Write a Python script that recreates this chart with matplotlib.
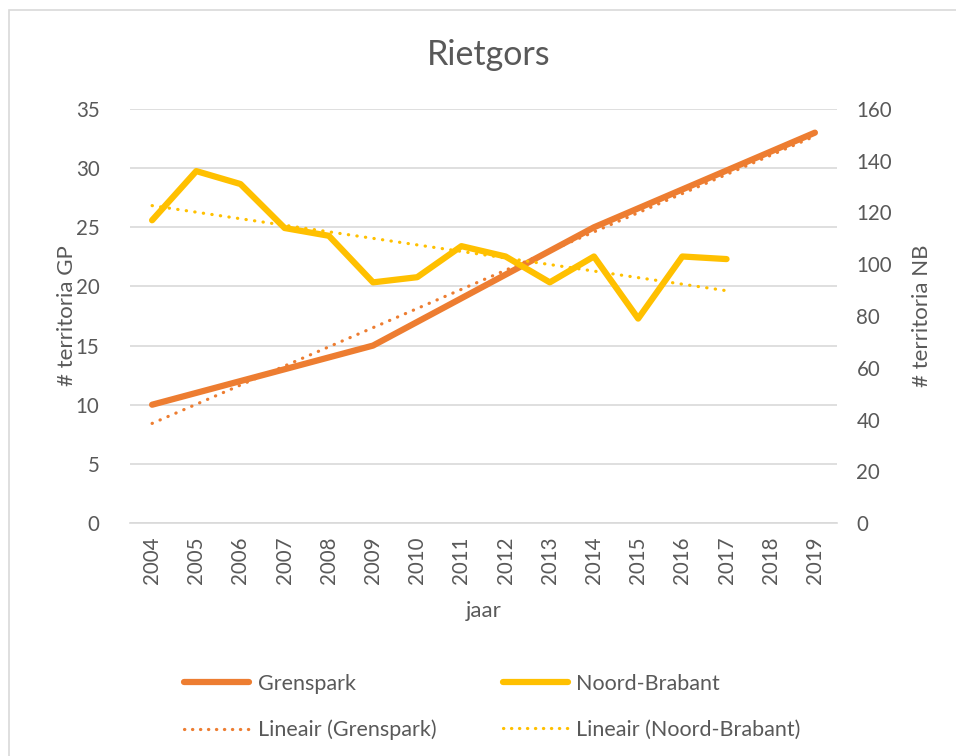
import numpy as np
import matplotlib
matplotlib.use("Agg")
import matplotlib.pyplot as plt
from matplotlib.lines import Line2D
from matplotlib.patches import Rectangle

years = [2004, 2005, 2006, 2007, 2008, 2009, 2010, 2011, 2012, 2013, 2014, 2015, 2016, 2017, 2018, 2019]
grenspark = [10, 11, 12, 13, 14, 15, 17, 19, 21, 23, 25, 26.6, 28.2, 29.8, 31.4, 33]
noord_brabant = [117, 136, 131, 114, 111, 93, 95, 107, 103, 93, 103, 79, 103, 102]

left_ticks = [0, 5, 10, 15, 20, 25, 30, 35]
right_ticks = [0, 20, 40, 60, 80, 100, 120, 140, 160]

title = "Rietgors"
xlabel = "jaar"
ylabel_left = "# territoria GP"
ylabel_right = "# territoria NB"

ORANGE = "#ED7D31"
GOLD = "#FFC000"
TXT = "#595959"
GRID = "#D9D9D9"

plt.rcParams['font.family'] = ['Lato', 'DejaVu Sans']

fig = plt.figure(figsize=(9.56, 7.56), dpi=100)
fig.patches.append(Rectangle((9/956, -0.05), 1.1, 1 - 10/756 + 0.05, transform=fig.transFigure,
                             fill=False, edgecolor="#D9D9D9", linewidth=1.2))

ax = fig.add_axes([130/956, 1 - 523/756, (837 - 130)/956, (523 - 109)/756])
ax2 = ax.twinx()

x = np.arange(len(years))
xg = x[:len(grenspark)]
xn = x[:len(noord_brabant)]

# trend lines (least squares, as Excel's linear trendline)
pg = np.polyfit(xg, grenspark, 1)
pn = np.polyfit(xn, noord_brabant, 1)

DOT = (0, (0.1, 2.6))
ax.plot(xg, grenspark, color=ORANGE, lw=4.5, solid_capstyle='round', solid_joinstyle='round', zorder=3)
ax.plot(xg, np.polyval(pg, xg), color=ORANGE, lw=2.3, linestyle=DOT, dash_capstyle='round', zorder=4)
ax2.plot(xn, noord_brabant, color=GOLD, lw=4.5, solid_capstyle='round', solid_joinstyle='round', zorder=3)
ax2.plot(xn, np.polyval(pn, xn), color=GOLD, lw=2.3, linestyle=DOT, dash_capstyle='round', zorder=4)

ax.set_xlim(-0.5, len(years) - 0.5)
ax.set_ylim(0, 35)
ax2.set_ylim(0, 160)
ax.set_yticks(left_ticks)
ax2.set_yticks(right_ticks)
ax.set_xticks(x)
ax.set_xticklabels([str(y) for y in years], rotation=90)

ax.grid(axis='y', color=GRID, lw=1.2)
ax.set_axisbelow(True)
for a in (ax, ax2):
    for s in a.spines.values():
        s.set_visible(False)
    a.tick_params(length=0, colors=TXT, labelsize=14.8)
ax.spines['bottom'].set_visible(True)
ax.spines['bottom'].set_color(GRID)
ax.spines['bottom'].set_linewidth(1.2)
ax.tick_params(axis='y', pad=22)
ax2.tick_params(axis='y', pad=14)
ax.tick_params(axis='x', pad=10)

ax.set_xlabel(xlabel, color=TXT, fontsize=16, labelpad=12)
ax.set_ylabel(ylabel_left, color=TXT, fontsize=16, labelpad=-1)
ax2.set_ylabel(ylabel_right, color=TXT, fontsize=16, labelpad=14)
fig.text(489/956, 1 - 55/756, title, ha='center', va='center', color=TXT, fontsize=24.5)

LDOT = (0, (0.1, 2.4))
handles = [
    Line2D([], [], color=ORANGE, lw=4.5, solid_capstyle='round'),
    Line2D([], [], color=ORANGE, lw=2.3, linestyle=LDOT, dash_capstyle='round'),
    Line2D([], [], color=GOLD, lw=4.5, solid_capstyle='round'),
    Line2D([], [], color=GOLD, lw=2.3, linestyle=LDOT, dash_capstyle='round'),
]
labels = ["Grenspark", "Lineair (Grenspark)", "Noord-Brabant", "Lineair (Noord-Brabant)"]
leg = fig.legend(handles, labels, ncol=2, loc='center left', bbox_to_anchor=(165/956, 1 - 707/756),
                 frameon=False, fontsize=15.5, handlelength=3.0, handletextpad=0.4,
                 columnspacing=3.1, labelspacing=1.2, labelcolor=TXT)

fig.savefig("out.png", dpi=100)
